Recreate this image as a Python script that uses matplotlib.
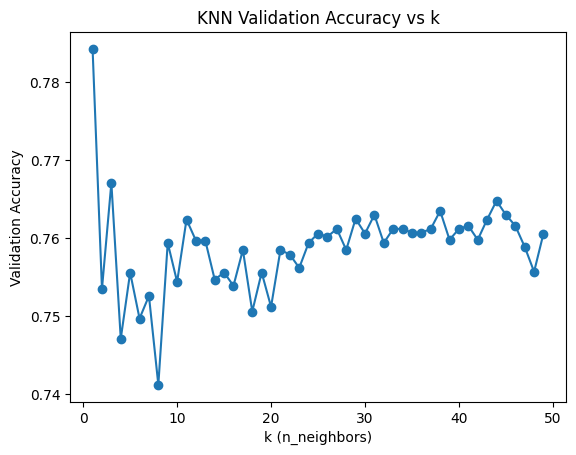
import matplotlib
matplotlib.use("Agg")
import matplotlib.pyplot as plt

k_values = list(range(1, 50))
val_acc = [0.7843, 0.7535, 0.7671, 0.7471, 0.7556, 0.7497, 0.7526, 0.7412, 0.7594, 0.7544,
           0.7624, 0.7597, 0.7597, 0.7547, 0.7556, 0.7539, 0.7585, 0.7506, 0.7556, 0.7512,
           0.7585, 0.7579, 0.7562, 0.7594, 0.7606, 0.7602, 0.7612, 0.7585, 0.7625, 0.7606,
           0.7630, 0.7594, 0.7612, 0.7612, 0.7607, 0.7607, 0.7612, 0.7635, 0.7598, 0.7612,
           0.7616, 0.7598, 0.7624, 0.7648, 0.7630, 0.7616, 0.7589, 0.7557, 0.7606]

plt.figure(figsize=(6.4, 4.8))
plt.plot(k_values, val_acc, marker='o')
plt.title('KNN Validation Accuracy vs k')
plt.xlabel('k (n_neighbors)')
plt.ylabel('Validation Accuracy')
plt.savefig('out.png', dpi=100, bbox_inches='tight')
